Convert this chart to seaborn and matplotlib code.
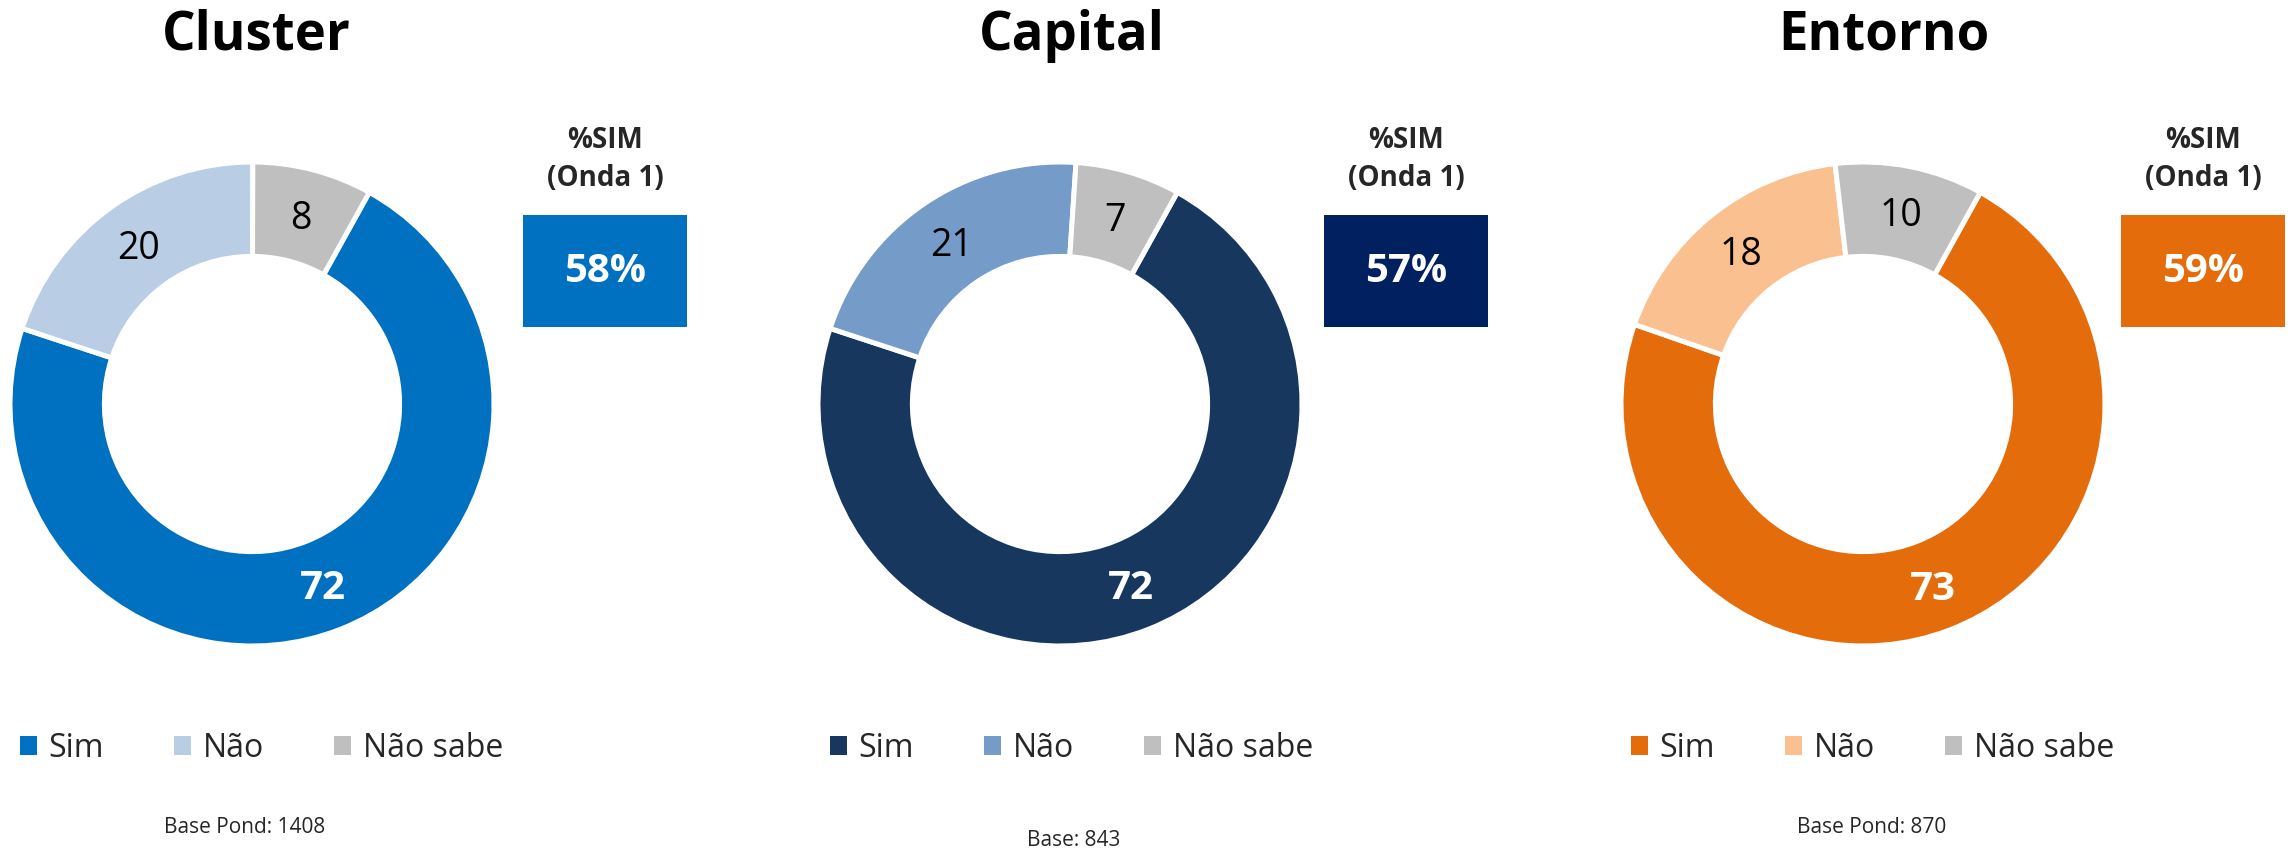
import numpy as np
import matplotlib
matplotlib.use("Agg")
import matplotlib.pyplot as plt
from matplotlib.patches import Patch, Rectangle
import seaborn as sns

# data
regions = ["Cluster", "Capital", "Entorno"]
categories = ["Sim", "Não", "Não sabe"]
sim = [72, 72, 73]
nao = [20, 21, 18]
nao_sabe = [8, 7, 10]
onda1_sim = [58, 57, 59]
base_labels = ["Base Pond: 1408", "Base: 843", "Base Pond: 870"]

# colours per panel: Sim, Não, Não sabe, box
palettes = [
    ["#0070C0", "#B9CDE5", "#BFBFBF"],
    ["#17375E", "#759BC9", "#BFBFBF"],
    ["#E46C0A", "#FAC090", "#BFBFBF"],
]
box_colors = ["#0070C0", "#002060", "#E46C0A"]

# layout, in pixels of the 2295x854 canvas
W, H = 2295, 854
donut_cx = [252, 1060, 1863]
donut_cy = 405
donut_r = 242
box_x = [523, 1324, 2121]
box_y, box_w, box_h = 216, 164, 112
title_x = [256, 1072, 1884]
legend_x = [20, 830, 1631]
base_xy = [(245, 828), (1074, 841), (1872, 828)]

sns.set_theme(style="white")
plt.rcParams["font.family"] = ["Open Sans", "DejaVu Sans"]


def fx(x):
    return x / W


def fy(y):
    return 1 - y / H


fig = plt.figure(figsize=(W / 100, H / 100), dpi=100)

for i, name in enumerate(regions):
    vals = [sim[i], nao[i], nao_sabe[i]]
    cols = palettes[i]
    cx = donut_cx[i]

    ax = fig.add_axes([fx(cx - donut_r), fy(donut_cy + donut_r),
                       2 * donut_r / W, 2 * donut_r / H])
    wedges, _ = ax.pie(vals, colors=cols, startangle=61, counterclock=False,
                       radius=1, wedgeprops=dict(width=0.39, edgecolor="white",
                                                 linewidth=3.6))
    ax.set_xlim(-1, 1)
    ax.set_ylim(-1, 1)
    ax.set_aspect("equal")
    ax.axis("off")

    for k, (w, v) in enumerate(zip(wedges, vals)):
        ang = np.deg2rad((w.theta1 + w.theta2) / 2)
        r = 0.805
        if k == 0:
            ax.text(r * np.cos(ang), r * np.sin(ang) - 0.01, str(v), ha="center",
                    va="center", color="white", fontsize=29, fontweight="bold")
        else:
            ax.text(r * np.cos(ang), r * np.sin(ang) - 0.01, str(v), ha="center",
                    va="center", color="black", fontsize=27)

    fig.text(fx(title_x[i]), fy(36), name, ha="center", va="center",
             fontsize=38, fontweight="bold", color="black")

    # %SIM onda 1 box
    bx = box_x[i]
    fig.add_artist(Rectangle((fx(bx), fy(box_y + box_h)), box_w / W, box_h / H,
                             transform=fig.transFigure, color=box_colors[i],
                             linewidth=0))
    fig.text(fx(bx + box_w / 2), fy(141), "%SIM", ha="center", va="center",
             fontsize=20, fontweight="bold")
    fig.text(fx(bx + box_w / 2), fy(179), "(Onda 1)", ha="center", va="center",
             fontsize=20, fontweight="bold")
    fig.text(fx(bx + box_w / 2), fy(box_y + box_h / 2), f"{onda1_sim[i]}%",
             ha="center", va="center", fontsize=29, fontweight="bold",
             color="white")

    handles = [Patch(facecolor=c, edgecolor="none") for c in cols]
    fig.legend(handles, categories, loc="center left",
               bbox_to_anchor=(fx(legend_x[i]), fy(749)), ncol=3,
               frameon=False, fontsize=23, handlelength=0.54,
               handleheight=0.54, handletextpad=0.35, columnspacing=2.2,
               borderpad=0, borderaxespad=0)

    fig.text(fx(base_xy[i][0]), fy(base_xy[i][1]), base_labels[i],
             ha="center", va="center", fontsize=15)

fig.savefig("out.png", dpi=100, facecolor="white")
plt.close(fig)
